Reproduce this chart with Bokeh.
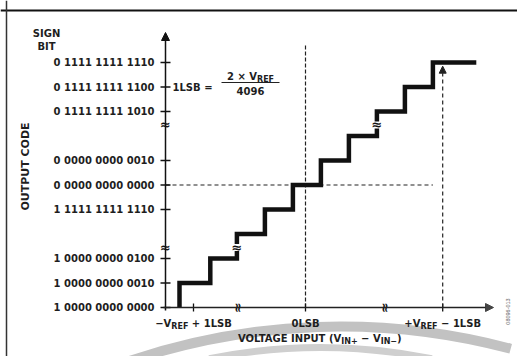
import re
import numpy as np
from bokeh.plotting import figure
from bokeh.models import Range1d, Arrow, NormalHead, Span
from bokeh.core.properties import value
from bokeh.embed import file_html
from bokeh.resources import INLINE

# ---------------- data ----------------
# staircase transfer function: transition points (in LSB) and code level reached there
step_edges = [-4.5, -3.4, -2.45, -1.45, -0.45, 0.55, 1.55, 2.55, 3.55, 4.55]
step_levels = [1, 2, 3, 4, 5, 6, 7, 8, 9, 10]
step_end = 6.1

y_tick_levels = [0, 1, 2, 4, 5, 6, 8, 9, 10]
y_tick_labels = ["1 0000 0000 0000", "1 0000 0000 0010", "1 0000 0000 0100",
                 "1 1111 1111 1110", "0 0000 0000 0000", "0 0000 0000 0010",
                 "0 1111 1111 1010", "0 1111 1111 1100", "0 1111 1111 1110"]
x_tick_pos = [-4.0, 0.0, 4.9]
x_tick_labels = ["−V_{REF} + 1LSB", "0LSB", "+V_{REF} − 1LSB"]

axis_x = -5.0          # y axis sits at -VREF
zero_level = 5         # code 0 0000 0000 0000
zero_line_top = 10.7
full_scale_x = 4.9     # +VREF - 1LSB
full_scale_top = 9.85
y_breaks = [2.45, 7.45]
x_breaks = [-2.43, 2.82]
stair_breaks_x = [-2.45, 2.55]

# ---------------- layout helpers ----------------
X0_PX, X_SCALE = 305.0, 28.0     # image px of x=0, px per LSB
Y0_PX, Y_SCALE = 307.0, 24.5     # image px of level 0, px per level
def dx(px): return (px - X0_PX) / X_SCALE
def dy(py): return (Y0_PX - py) / Y_SCALE

FONT = "DejaVu Sans"
TXT = "#1e1e1e"
W = {" ": .348, "A": .774, "B": .762, "C": .734, "D": .830, "E": .683, "F": .683,
     "G": .821, "I": .372, "L": .637, "N": .837, "O": .850, "P": .733, "R": .770,
     "S": .720, "T": .682, "U": .812, "V": .774, "+": .838, "−": .838, "×": .838,
     "=": .838, "(": .458, ")": .458, "-": .416}
for d in "0123456789":
    W[d] = .696

def tw(s, size):
    return sum(W.get(c, .7) for c in s) * size

def parse(label):
    parts = []
    for m in re.finditer(r"_\{([^}]*)\}|([^_]+)", label):
        if m.group(1) is not None:
            parts.append((m.group(1), True))
        else:
            parts.append((m.group(2), False))
    return parts

p = figure(width=517, height=356, x_range=Range1d(dx(0), dx(517)),
           y_range=Range1d(dy(356), dy(0)), output_backend="svg",
           toolbar_location=None, min_border=0, x_axis_type=None, y_axis_type=None)
p.outline_line_color = None
p.background_fill_color = "white"
p.border_fill_color = "white"

def txt(x, y, s, size=10, align="left", x_off=0.0, y_off=0.0, angle=0.0):
    p.text(x=[x], y=[y], text=[s], x_offset=x_off, y_offset=y_off, angle=angle,
           text_font=value(FONT), text_font_style="bold", text_font_size=f"{size}px",
           text_align=align, text_baseline="middle", text_color=TXT)

def rich(x, y, label, size=10, sub=8, x_off=0.0, y_off=0.0):
    """Centered text with _{subscript} parts; first part right-aligned at its end
    so that kerning does not open gaps before the subscripts."""
    parts = parse(label)
    sizes = [sub if s else size for _, s in parts]
    total = sum(tw(t, sz) for (t, _), sz in zip(parts, sizes))
    cur = x_off - total / 2
    for i, ((t, s), sz) in enumerate(zip(parts, sizes)):
        w = tw(t, sz)
        lead = len(t) - len(t.lstrip())
        trail = len(t) - len(t.rstrip())
        core = t.strip()
        yo = y_off + (3 if s else 0)
        if core:
            if i == 0 and len(parts) > 1:
                txt(x, y, core, sz, "right", cur + w - tw(t[len(t) - trail:], sz), yo)
            else:
                txt(x, y, core, sz, "left", cur + tw(t[:lead], sz), yo)
        cur += w

# ---------------- watermark bands ----------------
p.arc(x=[dx(340)], y=[dy(988)], radius=662, radius_units="screen",
      start_angle=np.pi / 2 - 0.26, end_angle=np.pi / 2 + 0.33,
      line_width=10, line_color="#c2c2c2")
p.arc(x=[dx(320)], y=[dy(907)], radius=560, radius_units="screen",
      start_angle=np.pi / 2 - 0.2, end_angle=np.pi / 2 + 0.2,
      line_width=7, line_color="#cfcfcf")

# ---------------- frame ----------------
p.add_layout(Span(location=dy(10), dimension="width", line_color="#111111", line_width=2))
p.add_layout(Span(location=dx(6), dimension="height", line_color="#333333", line_width=1.5))

# ---------------- dashed guides ----------------
p.line(x=[axis_x, step_edges[-1]], y=[zero_level, zero_level], line_color="#222222",
       line_width=1.2, line_dash="4 3")
p.line(x=[0, 0], y=[0, zero_line_top], line_color="#222222", line_width=1.2, line_dash="4 2")
p.add_layout(Arrow(x_start=full_scale_x, y_start=0, x_end=full_scale_x, y_end=full_scale_top,
                   line_color="#222222", line_width=1.2, line_dash="4 3",
                   end=NormalHead(size=7, fill_color="#222222", line_color="#222222")))

# ---------------- staircase ----------------
sx = [step_edges[0]] + step_edges + [step_end]
sy = [0] + step_levels + [step_levels[-1]]
p.step(x=sx, y=sy, mode="after", line_color="#111111", line_width=4.5, line_join="miter")

# ---------------- axes ----------------
p.add_layout(Arrow(x_start=axis_x, y_start=dy(310), x_end=axis_x, y_end=dy(32),
                   line_color="#111111", line_width=1.5,
                   end=NormalHead(size=8, fill_color="#111111", line_color="#111111")))
p.add_layout(Arrow(x_start=dx(163), y_start=0, x_end=dx(493), y_end=0,
                   line_color="#222222", line_width=1.5,
                   end=NormalHead(size=8, fill_color="#444444", line_color="#444444")))
p.scatter(x=[axis_x] * len(y_tick_levels), y=y_tick_levels, marker="dash", size=10,
          line_color="#111111", line_width=1.5)
p.scatter(x=x_tick_pos, y=[0] * len(x_tick_pos), marker="dash", angle=np.pi / 2, size=8,
          line_color="#111111", line_width=1.3)

# ---------------- break marks ----------------
bx = [axis_x] * len(y_breaks) + stair_breaks_x
by = y_breaks + y_breaks
p.scatter(x=bx, y=by, marker="square", size=7, fill_color="white", line_color=None)
p.text(x=bx, y=by, text=["≈"] * len(bx), text_font=value(FONT), text_font_style="bold",
       text_font_size="13px", text_align="center", text_baseline="middle", text_color="#111111")
p.scatter(x=x_breaks, y=[0] * len(x_breaks), marker="square", size=6, fill_color="white",
          line_color=None)
p.text(x=x_breaks, y=[0] * len(x_breaks), text=["≈"] * len(x_breaks), angle=np.pi / 2,
       text_font=value(FONT), text_font_style="bold", text_font_size="13px",
       text_align="center", text_baseline="middle", text_color="#111111")

# ---------------- tick labels ----------------
p.text(x=[axis_x] * len(y_tick_levels), y=y_tick_levels, text=y_tick_labels, x_offset=-11,
       text_font=value(FONT), text_font_style="bold", text_font_size="10px",
       text_align="right", text_baseline="middle", text_color=TXT)
for xp, lab in zip(x_tick_pos, x_tick_labels):
    rich(xp, 0, lab, y_off=16)

# ---------------- titles / annotations ----------------
txt(dx(46), dy(33), "SIGN", align="center")
txt(dx(46), dy(46), "BIT", align="center")
txt(dx(25), dy(166), "OUTPUT CODE", size=11, align="center", angle=np.pi / 2)
rich(dx(318), 0, "VOLTAGE INPUT (V_{IN+} − V_{IN−})", y_off=31)

# formula 1LSB = 2 x VREF / 4096
txt(dx(172), dy(87), "1LSB =")
rich(dx(250), dy(76), "2 × V_{REF}")
p.line(x=[dx(221), dx(279)], y=[dy(82), dy(82)], line_color="#222222", line_width=1)
txt(dx(250), dy(90), "4096", align="center")

# figure code
p.text(x=[dx(507)], y=[dy(311)], text=["08096-013"], angle=np.pi / 2,
       text_font=value("Liberation Sans"), text_font_size="5.5px",
       text_align="center", text_baseline="middle", text_color="#666666")

open("out.html", "w").write(file_html(p, INLINE))
